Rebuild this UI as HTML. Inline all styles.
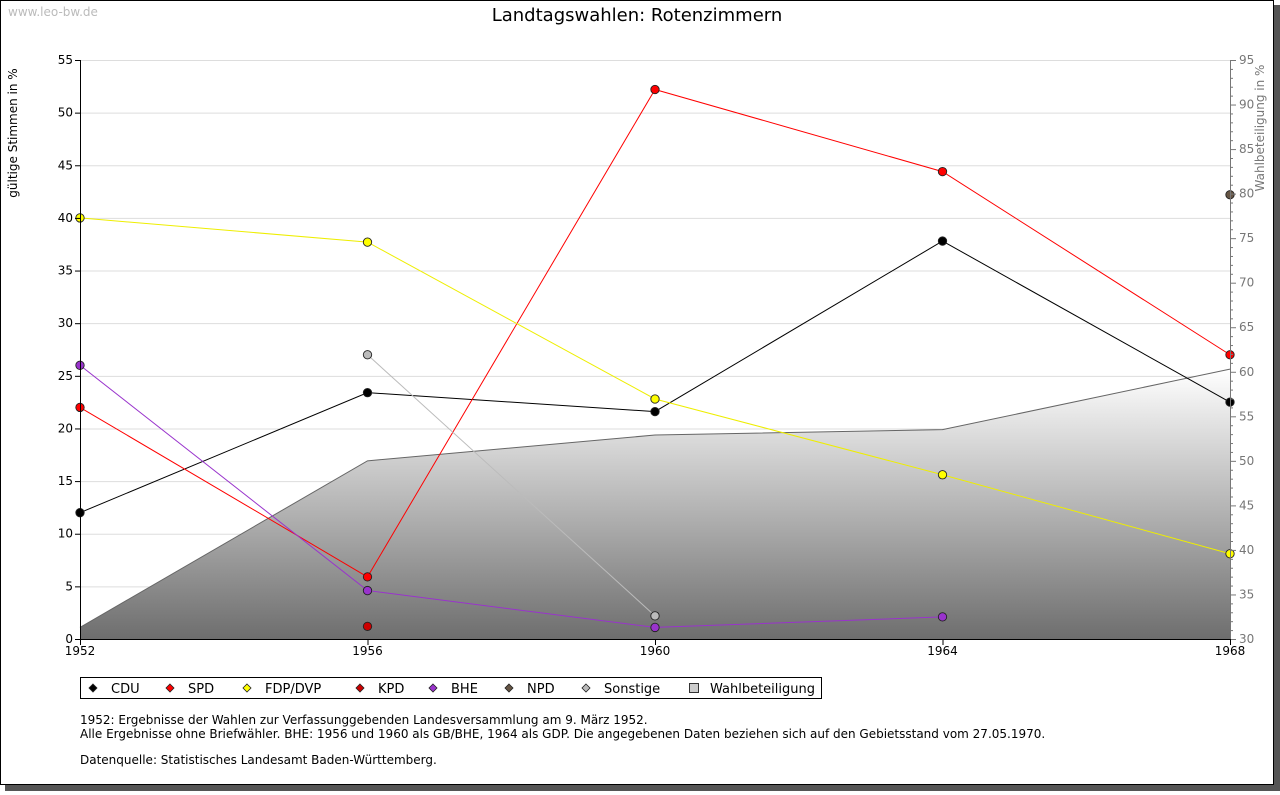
<!DOCTYPE html>
<html><head><meta charset="utf-8"><style>
body{margin:0;background:#fff;font-family:"DejaVu Sans","Liberation Sans",sans-serif;}
svg text{font-family:"DejaVu Sans","Liberation Sans",sans-serif;}
</style></head><body>
<svg id="c" width="1280" height="791" xmlns="http://www.w3.org/2000/svg">
<defs><linearGradient id="g" x1="0" y1="0" x2="0" y2="1"><stop offset="0" stop-color="#ffffff"/><stop offset="1" stop-color="#6e6e6e"/></linearGradient></defs>
<rect x="5" y="5" width="1275" height="786" fill="#555"/>
<rect x="0.5" y="0.5" width="1273" height="784" fill="#fff" stroke="#000"/>
<text x="8" y="16" font-size="12" fill="#bbb">www.leo-bw.de</text>
<text x="637" y="21" font-size="18" text-anchor="middle">Landtagswahlen: Rotenzimmern</text>
<text transform="translate(17,133) rotate(-90)" font-size="12" text-anchor="middle">gültige Stimmen in %</text>
<text transform="translate(1264,128) rotate(-90)" font-size="12" fill="#777" text-anchor="middle">Wahlbeteiligung in %</text>
<g id="grid"></g><g id="area"></g><g id="lines"></g><g id="axes"></g>
<g id="legend"><rect x="80.5" y="677.5" width="741" height="21" fill="#fff" stroke="#000"/></g>
<text font-size="12"><tspan x="80" y="724">1952: Ergebnisse der Wahlen zur Verfassunggebenden Landesversammlung am 9. März 1952.</tspan><tspan x="80" y="738">Alle Ergebnisse ohne Briefwähler. BHE: 1956 und 1960 als GB/BHE, 1964 als GDP. Die angegebenen Daten beziehen sich auf den Gebietsstand vom 27.05.1970.</tspan><tspan x="80" y="764">Datenquelle: Statistisches Landesamt Baden-Württemberg.</tspan></text>
</svg>
<script>
const years=[1952,1956,1960,1964,1968];
const cdu=[12,23.4,21.6,37.8,22.5];
const spd=[22,5.9,52.2,44.4,27];
const fdp=[40,37.7,22.8,15.6,8.1];
const kpd=[null,1.2,null,null,null];
const bhe=[26,4.6,1.1,2.1,null];
const npd=[null,null,null,null,42.2];
const sonst=[null,27,2.2,null,null];
const turnout=[31.3,50,52.9,53.5,60.3];
const leftTicks=[0,5,10,15,20,25,30,35,40,45,50,55];
const rightTicks=[30,35,40,45,50,55,60,65,70,75,80,85,90,95];
const NS="http://www.w3.org/2000/svg";
const X0=80,X1=1230,Y0=639,Y1=60;
const x=v=>X0+(v-1952)/(1968-1952)*(X1-X0);
const y=v=>Y0-v/55*(Y0-Y1);
const y2=v=>Y0-(v-30)/65*(Y0-Y1);
function mk(p,t,a){const e=document.createElementNS(NS,t);for(const k in a)e.setAttribute(k,a[k]);p.appendChild(e);return e;}
const G=document.getElementById('grid'),A=document.getElementById('area'),L=document.getElementById('lines'),AX=document.getElementById('axes');
leftTicks.forEach(t=>{if(t>0){const l=mk(G,'line',{x1:X0,x2:X1,y1:y(t)+.5,y2:y(t)+.5,stroke:'#ddd'});

}
mk(AX,'line',{x1:X0-5,x2:X0,y1:y(t)+.5,y2:y(t)+.5,stroke:'#000'});
const tx=mk(AX,'text',{x:X0-7,y:y(t)+4,'font-size':12,'text-anchor':'end'});tx.textContent=t;

});
for(let v=30;v<=95;v++){mk(AX,'line',{x1:X1,x2:X1+(v%5==0?6:3),y1:y2(v)+.5,y2:y2(v)+.5,stroke:'#777'});}
rightTicks.forEach(t=>{const tx=mk(AX,'text',{x:X1+9,y:y2(t)+4,'font-size':12,fill:'#777'});tx.textContent=t;

});
mk(AX,'line',{x1:X0+.5,x2:X0+.5,y1:Y1,y2:Y0,stroke:'#000'});
mk(AX,'line',{x1:X1+.5,x2:X1+.5,y1:Y1,y2:Y0,stroke:'#777'});
mk(AX,'line',{x1:X0,x2:X1,y1:Y0+.5,y2:Y0+.5,stroke:'#000'});
years.forEach(yr=>{mk(AX,'line',{x1:x(yr)+.5,x2:x(yr)+.5,y1:Y0,y2:Y0+6,stroke:'#000'});
const tx=mk(AX,'text',{x:x(yr),y:Y0+16,'font-size':12,'text-anchor':'middle'});tx.textContent=yr;

});
let d='M'+x(years[0])+','+Y0;turnout.forEach((v,i)=>d+=' L'+x(years[i])+','+y2(v));d+=' L'+x(years[4])+','+Y0+'Z';
const ar=mk(A,'path',{d:d,fill:'url(#g)'});


let d2='';turnout.forEach((v,i)=>d2+=(i?' L':'M')+x(years[i])+','+y2(v));
mk(A,'path',{d:d2,fill:'none',stroke:'#666'});
const series=[['cdu',cdu,'#000'],['spd',spd,'#f00'],['fdp',fdp,'#ff0'],['kpd',kpd,'#c00'],['bhe',bhe,'#93c'],['npd',npd,'#654'],['sonstige',sonst,'#bbb']];
series.forEach(([n,arr,c])=>{let p='',pen=false;arr.forEach((v,i)=>{if(v==null){pen=false;return;}p+=(pen?' L':' M')+x(years[i])+','+y(v);pen=true;});
const ln=mk(L,'path',{d:p,fill:'none',stroke:c==='#ff0'?'#ee0':c});


arr.forEach((v,i)=>{if(v==null)return;const cx=x(years[i]),cy=y(v);
const m=mk(L,'circle',{cx:cx,cy:cy,r:4.2,fill:c,stroke:'#222','stroke-width':0.9});

});});
const LG=document.getElementById('legend');
const leg=[['CDU','#000',93],['SPD','#f00',170],['FDP/DVP','#ff0',247],['KPD','#c00',360],['BHE','#93c',433],['NPD','#654',509],['Sonstige','#bbb',586]];
leg.forEach(([t,c,lx])=>{mk(LG,'path',{d:`M${lx},${684} L${lx+4},${688} L${lx},${692} L${lx-4},${688}Z`,fill:c,stroke:'#222','stroke-width':0.8});
const tx=mk(LG,'text',{x:lx+18,y:693,'font-size':13});tx.textContent=t;

});
mk(LG,'rect',{x:689.5,y:683.5,width:9,height:9,fill:'#ccc',stroke:'#333'});
const tw=mk(LG,'text',{x:710,y:693,'font-size':13});tw.textContent='Wahlbeteiligung';


</script>
</body></html>
